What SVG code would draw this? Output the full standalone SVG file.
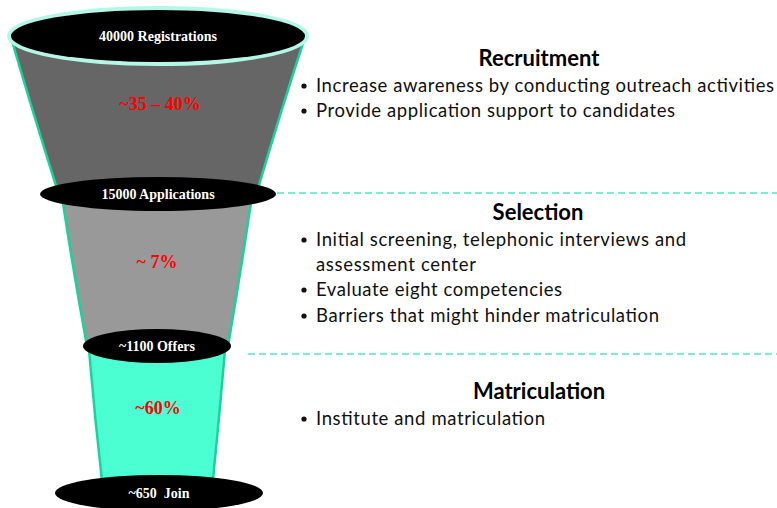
<svg xmlns="http://www.w3.org/2000/svg" width="777" height="508" viewBox="0 0 777 508">
  <style>
    .side { stroke: #19d29c; stroke-width: 2.5; fill: none; }
    .cap { fill: #000; }
    .cap-label { font-family: "Liberation Serif", "DejaVu Serif", serif; font-weight: bold; font-size: 14px; fill: #fff; text-anchor: middle; white-space: pre; }
    .rate { font-family: "Liberation Serif", "DejaVu Serif", serif; font-weight: bold; font-size: 18px; fill: #ff0000; text-anchor: middle; }
    .divider { stroke: #55e6c2; stroke-width: 1.5; stroke-dasharray: 7 4; fill: none; }
    .title { font-family: Lato, "Open Sans", sans-serif; font-weight: bold; font-size: 22px; fill: #000; text-anchor: middle; }
    .item { font-family: Lato, "Open Sans", sans-serif; font-size: 18.5px; fill: #111; }
    .dot { fill: #111; }
  </style>

  <!-- section dividers -->
  <g id="connectors">
    <line class="divider" x1="277" y1="193" x2="777" y2="193"/>
    <line class="divider" x1="248" y1="354" x2="777" y2="354"/>
  </g>

  <!-- funnel bodies -->
  <g id="stage-recruitment">
    <path d="M10,34 Q32,110 58,192 L257,192 Q281,110 306,34 Z" fill="#666666"/>
    <path class="side" d="M10,34 Q32,110 58,192"/>
    <path class="side" d="M306,34 Q281,110 257,192"/>
    <text class="rate" x="160" y="110">~35 – 40%</text>
  </g>

  <g id="stage-selection">
    <path d="M62,196 Q73,270 87,346 L228,346 Q241,270 252,196 Z" fill="#999999"/>
    <path class="side" d="M62,196 Q73,270 87,346"/>
    <path class="side" d="M252,196 Q241,270 228,346"/>
    <text class="rate" x="157" y="268">~ 7%</text>
  </g>

  <g id="stage-matriculation">
    <path d="M89,350 Q95,420 103,490 L212,490 Q219,420 225,350 Z" fill="#4bffd3"/>
    <path class="side" d="M89,350 Q95,420 103,490"/>
    <path class="side" d="M225,350 Q219,420 212,490"/>
    <text class="rate" x="158" y="414">~60%</text>
  </g>

  <!-- level caps -->
  <g id="cap-registrations">
    <ellipse cx="158" cy="36" rx="149" ry="28" fill="none" stroke="#b3f8e6" stroke-width="4"/>
    <ellipse class="cap" cx="158" cy="36" rx="147" ry="26"/>
    <text class="cap-label" x="158" y="41">40000 Registrations</text>
  </g>

  <g id="cap-applications">
    <ellipse class="cap" cx="158" cy="194" rx="118" ry="17"/>
    <text class="cap-label" x="158" y="199">15000 Applications</text>
  </g>

  <g id="cap-offers">
    <ellipse class="cap" cx="157" cy="346" rx="74" ry="17"/>
    <text class="cap-label" x="157" y="351">~1100 Offers</text>
  </g>

  <g id="cap-join">
    <ellipse class="cap" cx="159" cy="493" rx="104" ry="18"/>
    <text class="cap-label" x="159" y="498">~650  Join</text>
  </g>

  <!-- stage descriptions -->
  <g id="text-recruitment">
    <text class="title" x="539" y="66">Recruitment</text>
    <circle class="dot" cx="304" cy="86" r="2.6"/>
    <text class="item" x="316" y="92" textLength="458">Increase awareness by conducting outreach activities</text>
    <circle class="dot" cx="304" cy="111" r="2.6"/>
    <text class="item" x="316" y="117" textLength="359">Provide application support to candidates</text>
  </g>

  <g id="text-selection">
    <text class="title" x="538" y="220">Selection</text>
    <circle class="dot" cx="304" cy="240" r="2.6"/>
    <text class="item" x="316" y="246" textLength="370">Initial screening, telephonic interviews and</text>
    <text class="item" x="316" y="271" textLength="160">assessment center</text>
    <circle class="dot" cx="304" cy="290" r="2.6"/>
    <text class="item" x="316" y="296" textLength="246">Evaluate eight competencies</text>
    <circle class="dot" cx="304" cy="316" r="2.6"/>
    <text class="item" x="316" y="322" textLength="343">Barriers that might hinder matriculation</text>
  </g>

  <g id="text-matriculation">
    <text class="title" x="539" y="399">Matriculation</text>
    <circle class="dot" cx="304" cy="419" r="2.6"/>
    <text class="item" x="316" y="425" textLength="229">Institute and matriculation</text>
  </g>
</svg>
